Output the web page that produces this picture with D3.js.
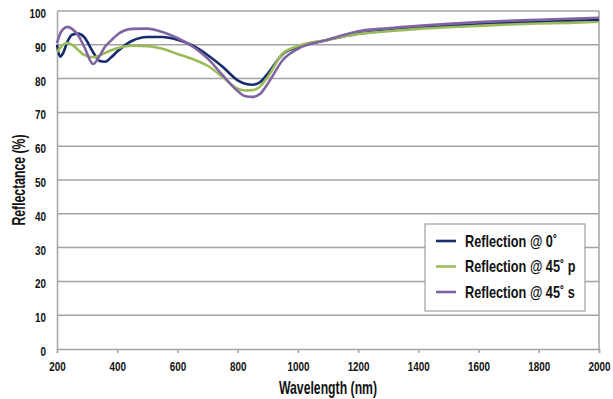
<!DOCTYPE html>
<html>
<head>
<meta charset="utf-8">
<script src="https://cdn.jsdelivr.net/npm/d3@7"></script>
<style>
  html, body { margin: 0; padding: 0; background: #fff; }
  svg { display: block; font-family: "Liberation Sans", Arial, sans-serif; font-weight: bold; }
</style>
</head>
<body>
<svg id="chart" width="613" height="399"></svg>
<script>
// Wavelength samples (nm)
const wavelengths = [200, 210, 220, 235, 250, 270, 290, 320, 340, 360, 380, 400, 450, 500, 550, 600, 650, 700, 750, 800, 825, 850, 875, 900, 950, 1000, 1100, 1200, 1300, 1400, 1500, 1600, 1700, 1800, 1900, 2000];

// Reflectance (%) for each polarisation / angle
const refl0 = [90.0, 86.5, 87.5, 91.0, 93.0, 93.3, 92.3, 87.8, 85.3, 85.0, 86.3, 88.0, 91.2, 92.3, 92.3, 91.5, 89.8, 87.0, 83.5, 79.5, 78.5, 78.2, 79.0, 81.5, 87.3, 89.3, 91.5, 93.3, 94.2, 95.0, 95.6, 96.1, 96.5, 96.8, 97.1, 97.3];
const refl45p = [87.8, 89.0, 90.0, 90.5, 90.0, 88.5, 87.0, 86.3, 86.8, 87.6, 88.4, 89.0, 89.7, 89.6, 88.8, 87.3, 85.8, 83.8, 80.5, 77.0, 76.5, 76.6, 77.7, 80.5, 87.5, 89.6, 91.5, 93.2, 94.0, 94.7, 95.2, 95.6, 96.0, 96.3, 96.5, 96.8];
const refl45s = [90.5, 93.2, 94.6, 95.3, 94.7, 92.8, 89.5, 84.3, 86.5, 89.5, 91.3, 93.0, 94.7, 94.8, 93.8, 92.0, 89.5, 86.0, 81.0, 76.3, 74.8, 74.6, 75.5, 78.5, 85.5, 88.8, 91.5, 94.0, 94.9, 95.6, 96.2, 96.7, 97.1, 97.4, 97.7, 98.0];

const seriesNames = ["Reflection @ 0\u02da", "Reflection @ 45\u02da p", "Reflection @ 45\u02da s"];
const seriesColors = ["#172c6c", "#9bbb59", "#8064a2"];

const xTicks = [200, 400, 600, 800, 1000, 1200, 1400, 1600, 1800, 2000];
const yTicks = [0, 10, 20, 30, 40, 50, 60, 70, 80, 90, 100];

const svg = d3.select("#chart");
const margin = { left: 57, top: 11, right: 14, bottom: 50 };
const W = 613, H = 399;
const innerW = W - margin.left - margin.right;
const innerH = H - margin.top - margin.bottom;

const x = d3.scaleLinear().domain([200, 2000]).range([margin.left, margin.left + innerW]);
const y = d3.scaleLinear().domain([0, 100]).range([margin.top + innerH, margin.top]);

const gridColor = "#a3a3a3";
const textColor = "#111";

// Narrow a text horizontally around its own x anchor (condensed face)
function condense(sel, s) {
  sel.each(function () {
    const t = d3.select(this);
    const tx = +t.attr("x") || 0;
    t.attr("transform", `translate(${tx},0) scale(${s},1) translate(${-tx},0)`);
  });
}

// Horizontal gridlines
svg.append("g")
  .selectAll("line")
  .data(yTicks.filter(d => d > 0))
  .join("line")
  .attr("x1", x(200)).attr("x2", x(2000))
  .attr("y1", d => y(d)).attr("y2", d => y(d))
  .attr("stroke", gridColor).attr("stroke-width", 1.5);

// Right border of plot
svg.append("line")
  .attr("x1", x(2000)).attr("x2", x(2000))
  .attr("y1", y(100)).attr("y2", y(0))
  .attr("stroke", gridColor).attr("stroke-width", 1.5);

// Axes
const xAxis = d3.axisBottom(x).tickValues(xTicks).tickSize(4).tickPadding(9).tickFormat(d3.format("d"));
const yAxis = d3.axisLeft(y).tickValues(yTicks).tickSize(0).tickPadding(11).tickFormat(d3.format("d"));

const gx = svg.append("g").attr("transform", `translate(0,${y(0)})`).call(xAxis);
const gy = svg.append("g").attr("transform", `translate(${x(200)},0)`).call(yAxis);

[gx, gy].forEach(g => {
  g.select(".domain").attr("stroke", gridColor).attr("stroke-width", 1.5);
  g.selectAll(".tick line").attr("stroke", gridColor).attr("stroke-width", 1.5);
  g.selectAll(".tick text")
    .attr("fill", textColor)
    .style("font-family", '"Liberation Sans", Arial, sans-serif')
    .style("font-weight", "bold")
    .style("font-size", "13px");
});
gy.selectAll(".tick text").attr("dy", "0.5em");
condense(gx.selectAll(".tick text"), 0.76);
condense(gy.selectAll(".tick text"), 0.76);

// Axis titles
svg.append("text")
  .attr("x", (x(200) + x(2000)) / 2).attr("y", 394)
  .attr("text-anchor", "middle")
  .attr("fill", textColor)
  .style("font-size", "17.5px")
  .text("Wavelength (nm)")
  .call(condense, 0.7);

svg.append("text")
  .attr("transform", `translate(25,${y(50)}) rotate(-90) scale(0.7,1)`)
  .attr("text-anchor", "middle")
  .attr("fill", textColor)
  .style("font-size", "17.5px")
  .text("Reflectance (%)");

// Curves
const series = [refl0, refl45p, refl45s];
const line = d3.line()
  .x((d, i) => x(wavelengths[i]))
  .y(d => y(d))
  .curve(d3.curveMonotoneX);

svg.append("g")
  .selectAll("path")
  .data(series)
  .join("path")
  .attr("d", d => line(d))
  .attr("fill", "none")
  .attr("stroke", (d, i) => seriesColors[i])
  .attr("stroke-width", 2.6)
  .attr("stroke-linejoin", "round");

// Legend
const legend = svg.append("g").attr("transform", "translate(425,224)");
legend.append("rect")
  .attr("width", 160).attr("height", 87)
  .attr("fill", "#fff")
  .attr("stroke", "#8c8c8c").attr("stroke-width", 1);

const items = legend.selectAll("g.item")
  .data(seriesNames)
  .join("g")
  .attr("class", "item")
  .attr("transform", (d, i) => `translate(0,${17 + i * 25.5})`);

items.append("line")
  .attr("x1", 11).attr("x2", 31)
  .attr("stroke", (d, i) => seriesColors[i])
  .attr("stroke-width", 2.6);

items.append("text")
  .attr("x", 40).attr("dy", "0.36em")
  .attr("fill", textColor)
  .style("font-size", "16.5px")
  .text(d => d)
  .call(condense, 0.77);
</script>
</body>
</html>
